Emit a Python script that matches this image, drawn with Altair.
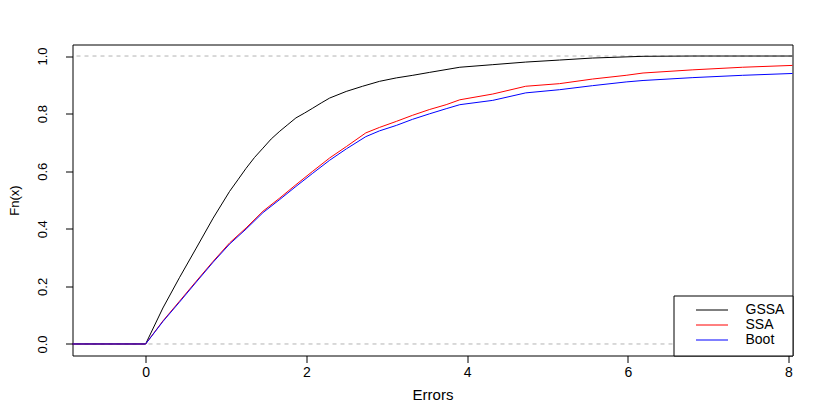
import altair as alt
import pandas as pd

# ---- data (ECDFs of errors) ----
gssa_x = [-1.2, 0.0, 0.215, 0.42, 0.63, 0.84, 1.045, 1.148, 1.25, 1.356, 1.46, 1.563, 1.67,
          1.77, 1.87, 1.978, 2.08, 2.185, 2.29, 2.496, 2.70, 2.91, 3.12, 3.325, 3.53, 3.91,
          4.32, 4.73, 5.15, 5.56, 6.19, 6.81, 8.3]
gssa_y = [0.0, 0.0, 0.125, 0.23, 0.333, 0.437, 0.53, 0.570, 0.61, 0.648, 0.68, 0.712, 0.739,
          0.762, 0.785, 0.802, 0.819, 0.837, 0.854, 0.877, 0.895, 0.912, 0.924, 0.933, 0.943,
          0.961, 0.970, 0.979, 0.986, 0.993, 0.999, 1.0, 1.0]

ssa_x = [-1.2, 0.0, 0.215, 0.42, 0.63, 0.84, 1.045, 1.25, 1.46, 1.67, 1.87, 2.08, 2.29, 2.50,
         2.74, 2.91, 3.12, 3.32, 3.53, 3.74, 3.91, 4.32, 4.73, 5.15, 5.56, 5.98, 6.19, 6.81,
         7.43, 8.3]
ssa_y = [0.0, 0.0, 0.08, 0.148, 0.218, 0.287, 0.351, 0.403, 0.461, 0.507, 0.553, 0.600, 0.646,
         0.686, 0.733, 0.752, 0.773, 0.794, 0.814, 0.831, 0.848, 0.868, 0.895, 0.904, 0.920,
         0.933, 0.941, 0.952, 0.961, 0.970]

boot_x = [-1.2, 0.0, 0.215, 0.42, 0.63, 0.84, 1.045, 1.25, 1.46, 1.67, 1.87, 2.08, 2.29, 2.50,
          2.74, 2.91, 3.12, 3.32, 3.53, 3.74, 3.91, 4.32, 4.73, 5.15, 5.56, 5.98, 6.19, 6.81,
          7.43, 8.3]
boot_y = [0.0, 0.0, 0.078, 0.145, 0.215, 0.284, 0.347, 0.399, 0.456, 0.502, 0.547, 0.593, 0.638,
          0.678, 0.720, 0.740, 0.759, 0.780, 0.799, 0.817, 0.831, 0.846, 0.872, 0.883, 0.897,
          0.910, 0.915, 0.925, 0.933, 0.942]

series_names = ["GSSA", "SSA", "Boot"]
series_colors = ["black", "red", "blue"]
ref_levels = [0.0, 1.0]
x_ticks = [0, 2, 4, 6, 8]
y_ticks = [0.0, 0.2, 0.4, 0.6, 0.8, 1.0]

frames = []
for name, xs, ys in [("GSSA", gssa_x, gssa_y), ("SSA", ssa_x, ssa_y), ("Boot", boot_x, boot_y)]:
    frames.append(pd.DataFrame({"x": xs, "y": ys, "series": name}))
df = pd.concat(frames, ignore_index=True)
ref_df = pd.DataFrame({"y": ref_levels})

FONT = "Liberation Sans"

x_scale = alt.Scale(domain=[-0.91, 8.05], nice=False, zero=False)
y_scale = alt.Scale(domain=[-0.04, 1.04], nice=False, zero=False)
color_scale = alt.Scale(domain=series_names, range=series_colors)

x_axis = alt.Axis(values=x_ticks, title="Errors", grid=False, domain=False,
                  tickColor="black", tickSize=7, labelFontSize=14, labelFont=FONT,
                  labelColor="black", labelPadding=3, titleFont=FONT, titleFontSize=15,
                  titleFontWeight="normal", titleColor="black", titleY=39,
                  titleBaseline="middle", labelFlush=False)
y_axis = alt.Axis(values=y_ticks, format=".1f", title="Fn(x)", grid=False, domain=False,
                  tickColor="black", tickSize=7, labelFontSize=13, labelFont=FONT,
                  labelColor="black", labelAngle=270, labelAlign="center",
                  labelBaseline="alphabetic", labelPadding=19, titleFont=FONT,
                  titleFontSize=13, titleFontWeight="normal", titleColor="black",
                  titleX=-58, titleY=155.5, titleAngle=270, titleAlign="center",
                  titleBaseline="middle", labelFlush=False)

refs = alt.Chart(ref_df).mark_rule(color="#b3b3b3", strokeDash=[4, 4], strokeWidth=1).encode(
    y=alt.Y("y:Q", scale=y_scale, axis=y_axis)
)

legend = alt.Legend(title=None, orient="bottom-right", offset=0,
                    fillColor="white", strokeColor="black",
                    padding=8, symbolType="stroke",
                    symbolSize=1024, symbolStrokeWidth=1,
                    symbolOffset=14, labelOffset=17,
                    labelFont=FONT, labelFontSize=14,
                    labelColor="black", rowPadding=0, clipHeight=13,
                    cornerRadius=0)


def line_layer(name):
    return alt.Chart(df[df.series == name]).mark_line(strokeWidth=1, clip=True).encode(
        x=alt.X("x:Q", scale=x_scale, axis=x_axis),
        y=alt.Y("y:Q", scale=y_scale, axis=y_axis),
        color=alt.Color("series:N", scale=color_scale, legend=legend),
    )


chart = alt.layer(refs, line_layer("GSSA"), line_layer("SSA"), line_layer("Boot")).properties(
    width=720, height=311,
    padding={"left": 64.5, "top": 36.5, "right": 20, "bottom": 55},
    autosize=alt.AutoSizeParams(type="none"),
    background="white",
).configure_view(stroke="black", strokeWidth=1)

chart.save("out.html", embed_options={"renderer": "svg", "actions": False})
